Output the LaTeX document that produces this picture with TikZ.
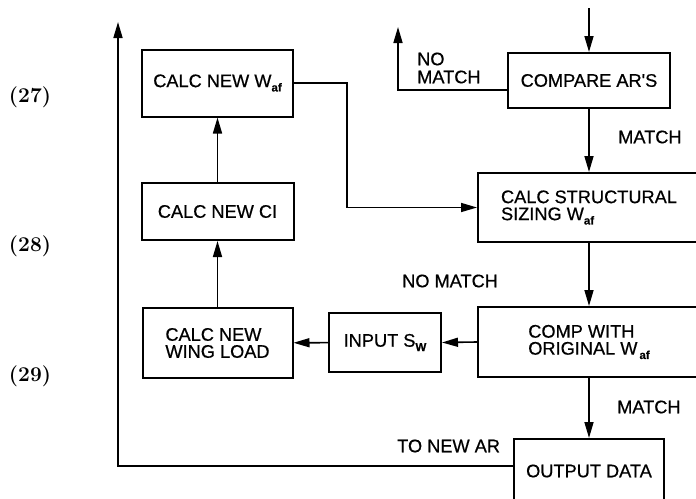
\documentclass[tikz,border=0pt]{standalone}
\usepackage{fontspec}
\newfontfamily\helv[FakeBold=0.6]{Liberation Sans}
\usetikzlibrary{arrows.meta, positioning, calc}
\newcommand{\lowtxt}[1]{\raisebox{-0.45ex}{\fontsize{11.5}{11.5}\selectfont\bfseries #1}}

\begin{document}
\begin{tikzpicture}[
    x=1pt, y=-1pt,
    box/.style={rectangle, draw, line width=2pt, font=\helv\fontsize{18.2}{17}\selectfont, align=left, inner sep=0pt},
    arrow/.style={-{Triangle[length=16pt,width=9pt]}, line width=1.6pt},
    tag/.style={font=\helv\fontsize{18.2}{18}\selectfont, align=left, anchor=west, inner sep=0pt},
    eqno/.style={font=\bfseries\fontsize{21}{21}\selectfont, inner sep=0pt}
]
    \clip (0,0) rectangle (696,498);

    % Equation numbers
    \node[eqno] (e27) at (30,97) {(27)};
    \node[eqno] (e28) at (30,246) {(28)};
    \node[eqno] (e29) at (30,376) {(29)};

    % Left column
    \node[box, minimum width=151pt, minimum height=67pt] (waf) at (217.5,83) {CALC NEW W\lowtxt{af}};
    \node[box, minimum width=152pt, minimum height=57pt] (ci) at (217.5,211.5) {CALC NEW CI};
    \node[box, minimum width=150pt, minimum height=70pt] (wing) at (217.5,343) {CALC NEW\\WING LOAD};

    % Input
    \node[box, minimum width=112pt, minimum height=59pt] (input) at (385,342.5) {INPUT S\lowtxt{W}};

    % Right column
    \node[box, minimum width=162pt, minimum height=55pt] (compare) at (589,80.5) {COMPARE AR'S};
    \node[box, minimum width=222pt, minimum height=69pt] (struct) at (589,207.5) {CALC STRUCTURAL\\SIZING W\lowtxt{af}};
    \node[box, minimum width=222pt, minimum height=70pt] (comp) at (589,342) {COMP WITH\\ORIGINAL W\kern2pt\lowtxt{af}};
    \node[box, minimum width=150pt, minimum height=64pt] (output) at (589,471) {OUTPUT DATA};

    % Labels
    \node[tag] (nm1) at (417,68) {NO\\MATCH};
    \node[tag] (m1) at (618,137) {MATCH};
    \node[tag] (nm2) at (402,281) {NO MATCH};
    \node[tag] (m2) at (617,407) {MATCH};
    \node[tag] (ar) at (397,446) {TO NEW AR};

    % Free ends
    \coordinate (feed) at (589,8);
    \coordinate (nomatch) at (398,27);
    \coordinate (turn) at (347,0);
    \coordinate (newar) at (118,22);

    % Arrows
    \draw[arrow] (feed) -- (compare);
    \draw[arrow] ([yshift=-9.5pt]compare.west) -| (nomatch);
    \draw[arrow] (compare) -- (struct);
    \draw[arrow] (waf.east) -| (turn |- struct.west) -- (struct.west);
    \draw[arrow] (ci) -- (waf);
    \draw[arrow] (wing) -- (ci);
    \draw[arrow] (input) -- (wing);
    \draw[arrow] (comp.west) -- (input.east);
    \draw[arrow] (struct) -- (comp);
    \draw[arrow] (comp) -- (output);
    \draw[arrow] ([yshift=5pt]output.west) -| (newar);
\end{tikzpicture}
\end{document}
